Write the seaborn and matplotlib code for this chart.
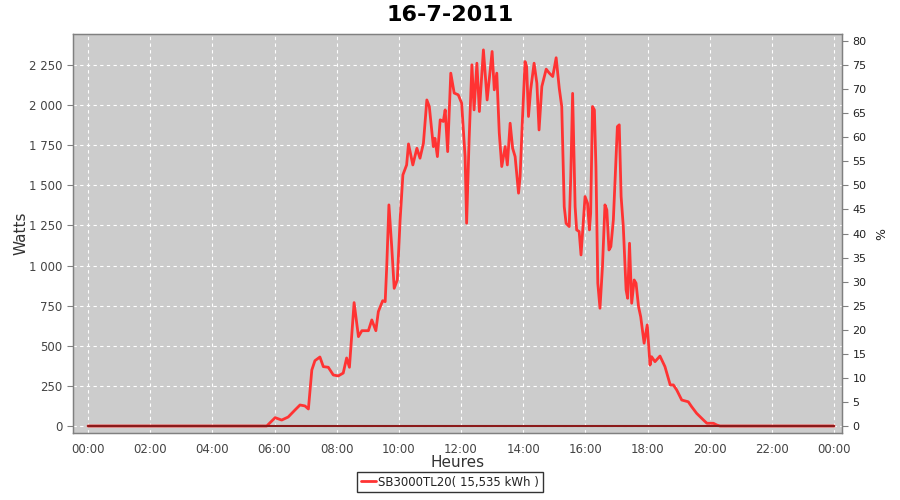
import matplotlib
matplotlib.use("Agg")
import matplotlib.pyplot as plt
import matplotlib.ticker as mticker
import seaborn as sns
import pandas as pd

# --- data -------------------------------------------------------------
hours = [0.00, 5.75, 6.02, 6.23, 6.44, 6.66, 6.82, 6.98, 7.09, 7.20, 7.30, 7.46,
         7.57, 7.73, 7.89, 8.05, 8.21, 8.32, 8.41, 8.56, 8.70, 8.81, 9.02, 9.13,
         9.26, 9.34, 9.48, 9.56, 9.61, 9.68, 9.77, 9.85, 9.95, 10.04, 10.13, 10.25,
         10.31, 10.45, 10.58, 10.68, 10.79, 10.90, 10.98, 11.11, 11.16, 11.24, 11.33,
         11.43, 11.49, 11.57, 11.67, 11.78, 11.91, 12.02, 12.13, 12.18, 12.26, 12.35,
         12.42, 12.51, 12.59, 12.72, 12.84, 13.00, 13.07, 13.15, 13.23, 13.31, 13.42,
         13.49, 13.58, 13.66, 13.74, 13.85, 13.90, 13.97, 14.06, 14.11, 14.17, 14.24,
         14.35, 14.44, 14.51, 14.60, 14.74, 14.84, 14.95, 15.06, 15.16, 15.24, 15.32,
         15.38, 15.48, 15.53, 15.59, 15.67, 15.72, 15.80, 15.86, 15.94, 15.99, 16.07,
         16.13, 16.17, 16.23, 16.29, 16.34, 16.40, 16.47, 16.55, 16.63, 16.69, 16.76,
         16.82, 16.90, 16.96, 17.03, 17.09, 17.15, 17.22, 17.31, 17.36, 17.42, 17.49,
         17.57, 17.63, 17.71, 17.78, 17.89, 17.99, 18.08, 18.13, 18.24, 18.40, 18.56,
         18.73, 18.83, 18.94, 19.10, 19.31, 19.42, 19.58, 19.80, 19.91, 20.12, 20.23,
         20.33, 24.00]
watts = [0, 0, 52, 37, 56, 100, 131, 125, 106, 349, 407, 430,
         370, 366, 318, 312, 330, 424, 366, 769, 557, 594, 594, 661,
         594, 713, 781, 775, 993, 1378, 1118, 858, 910, 1284, 1565, 1627,
         1758, 1627, 1731, 1669, 1762, 2032, 1991, 1741, 1793, 1679, 1908,
         1898, 1970, 1710, 2199, 2075, 2064, 2012, 1679, 1264, 1783, 2251,
         1970, 2261, 1960, 2344, 2032, 2334, 2095, 2199, 1827, 1617, 1741,
         1627, 1887, 1731, 1679, 1451, 1554, 1887, 2271, 2240, 1929, 2095,
         2261, 2136, 1845, 2116, 2224, 2199, 2178, 2295, 2105, 1991, 1367,
         1263, 1243, 1554, 2073, 1367, 1222, 1212, 1066, 1284, 1430, 1388,
         1222, 1326, 1991, 1970, 1617, 890, 734, 993, 1378, 1347, 1097,
         1118, 1284, 1554, 1866, 1877, 1430, 1243, 848, 796, 1139, 765,
         910, 890, 744, 681, 516, 630, 380, 432, 401, 436, 370,
         256, 256, 224, 162, 151, 120, 79, 37, 17, 17, 6,
         0, 0]
pct_hours = [0.0, 24.0]
pct_values = [0, 0]

title = "16-7-2011"
series_label = "SB3000TL20( 15,535 kWh )"
x_ticks = list(range(0, 25, 2))
x_tick_labels = [f"{h % 24:02d}:00" for h in x_ticks]

df = pd.DataFrame({"Heures": hours, "Watts": watts})
dfp = pd.DataFrame({"Heures": pct_hours, "pct": pct_values})

# --- style ------------------------------------------------------------
sns.set_style("white")
plt.rcParams["font.family"] = ["DejaVu Sans"]

fig = plt.figure(figsize=(9, 5), dpi=100)
ax = fig.add_axes([0.0811, 0.134, 0.8545, 0.798])
ax.set_facecolor("#cccccc")

sns.lineplot(data=df, x="Heures", y="Watts", ax=ax, color="#ff3333",
             linewidth=2.0, label=series_label, legend=False)

ax.set_xlim(-0.483, 24.257)
ax.set_ylim(-43.6, 2443)
ax.set_xticks(x_ticks)
ax.set_xticklabels(x_tick_labels)
ax.set_yticks(range(0, 2500, 250))
ax.yaxis.set_major_formatter(mticker.FuncFormatter(
    lambda v, p: f"{int(v):,}".replace(",", " ")))
ax.grid(True, color="white", linestyle=(0, (3, 3)), linewidth=0.8)
ax.set_axisbelow(True)

for s in ax.spines.values():
    s.set_color("#808080")
    s.set_linewidth(1.0)
ax.tick_params(axis="both", which="major", direction="out", length=4,
               width=0.8, color="#808080", labelsize=8.5, labelcolor="#444444")
ax.set_xlabel("Heures", fontsize=11, color="#333333")
ax.set_ylabel("Watts", fontsize=11, color="#333333")
ax.xaxis.set_label_coords(0.5, -0.055)
ax.yaxis.set_label_coords(-0.058, 0.5)

ax2 = ax.twinx()
sns.lineplot(data=dfp, x="Heures", y="pct", ax=ax2, color="#8b1a1a",
             linewidth=1.5, legend=False)
ax2.set_ylim(-1.45, 81.45)
ax2.set_yticks(range(0, 85, 5))
ax2.tick_params(axis="y", direction="out", length=4, width=0.8,
                color="#808080", labelsize=8, labelcolor="#222222")
ax2.set_ylabel("%", fontsize=9, color="#222222", labelpad=6)
ax2.grid(False)
for s in ax2.spines.values():
    s.set_color("#808080")

fig.suptitle(title, fontsize=16, fontweight="bold", y=0.99, color="black")

handles, labels = ax.get_legend_handles_labels()
leg = fig.legend(handles, labels, loc="lower center", bbox_to_anchor=(0.5, 0.004),
                 frameon=True, fancybox=False, fontsize=8.5, handlelength=1.3,
                 handletextpad=0.2, borderpad=0.3, labelcolor="#222222")
leg.get_frame().set_edgecolor("black")
leg.get_frame().set_linewidth(1.0)

fig.savefig("out.png", dpi=100, facecolor="white")
